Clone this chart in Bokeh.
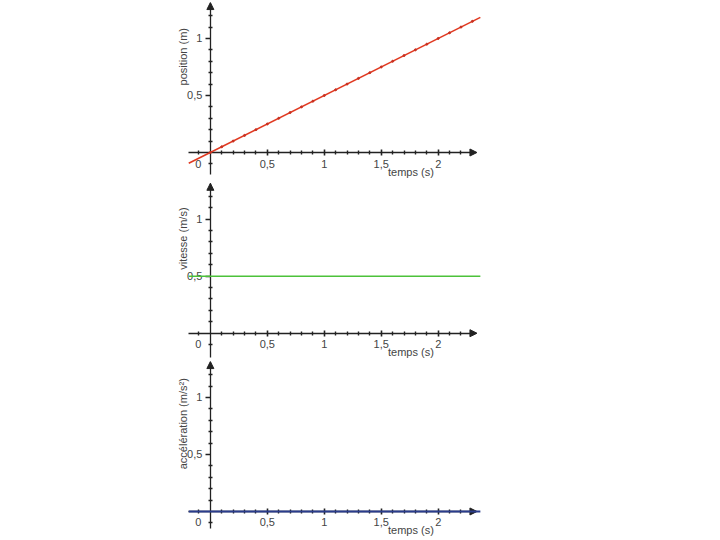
from bokeh.plotting import figure
from bokeh.layouts import column
from bokeh.models import FixedTicker, Label, Arrow, NormalHead, Range1d
from bokeh.embed import file_html
from bokeh.resources import INLINE

# ---- data ----
t_line = [-0.19, 2.37]
t_pts = [0.0, 0.1, 0.2, 0.3, 0.4, 0.5, 0.6, 0.7, 0.8, 0.9, 1.0, 1.1, 1.2,
         1.3, 1.4, 1.5, 1.6, 1.7, 1.8, 1.9, 2.0, 2.1, 2.2, 2.3]
position = [-0.095, 1.185]
position_pts = [0.0, 0.05, 0.1, 0.15, 0.2, 0.25, 0.3, 0.35, 0.4, 0.45, 0.5, 0.55,
                0.6, 0.65, 0.7, 0.75, 0.8, 0.85, 0.9, 0.95, 1.0, 1.05, 1.1, 1.15]
vitesse = [0.5, 0.5]
acceleration = [0.0, 0.0]

x_ticks = [0.5, 1, 1.5, 2]
y_ticks = [0.5, 1]
minor = [-0.1, 0.1, 0.2, 0.3, 0.4, 0.6, 0.7, 0.8, 0.9, 1.1, 1.2, 1.3, 1.4,
         1.6, 1.7, 1.8, 1.9, 2.1, 2.2, 2.3]
minor_y = [-0.1, 0.1, 0.2, 0.3, 0.4, 0.6, 0.7, 0.8, 0.9, 1.1, 1.2]
overrides = {0.5: "0,5", 1.5: "1,5"}

x_title = "temps (s)"
titles = ["position (m)", "vitesse (m/s)", "accélération (m/s²)"]

FONT = "Liberation Sans"
TXT = "#444444"
AX = "#222222"

X0, X1 = -0.35, 2.38


def make_fig(h, y0, y1, yb0, yb1, title, title_y):
    p = figure(width=505, height=h, output_backend="svg", toolbar_location=None,
               x_range=Range1d(X0, X1), y_range=Range1d(y0, y1),
               min_border=0, min_border_left=170, min_border_right=24)
    p.outline_line_color = None
    p.grid.grid_line_color = None
    for ax, tk, mn, b0, b1 in ((p.xaxis[0], x_ticks, minor, -0.19, 2.33),
                               (p.yaxis[0], y_ticks, minor_y, yb0, yb1)):
        ax.fixed_location = 0
        ax.ticker = FixedTicker(ticks=tk, minor_ticks=mn)
        ax.major_label_overrides = overrides
        ax.bounds = (b0, b1)
        ax.axis_line_color = AX
        ax.axis_line_width = 1.3
        ax.major_tick_line_color = AX
        ax.minor_tick_line_color = AX
        ax.major_tick_line_width = 1.6
        ax.minor_tick_line_width = 1.4
        ax.minor_tick_in = 2
        ax.minor_tick_out = 2
        ax.major_label_text_font = FONT
        ax.major_label_text_font_size = "11px"
        ax.major_label_text_color = TXT
    p.xaxis.major_tick_in = 3
    p.xaxis.major_tick_out = 3
    p.xaxis.major_label_standoff = 4
    p.yaxis.major_tick_in = 0
    p.yaxis.major_tick_out = 5
    p.yaxis.major_label_standoff = 3

    head_kw = dict(size=7, fill_color=AX, line_color=AX)
    p.add_layout(Arrow(end=NormalHead(**head_kw), x_start=2.3, y_start=0,
                       x_end=2.34, y_end=0, line_color=AX, line_width=1.3))
    p.add_layout(Arrow(end=NormalHead(**head_kw), x_start=0, y_start=yb1 - 0.05,
                       x_end=0, y_end=yb1 + 0.005, line_color=AX, line_width=1.3))

    p.add_layout(Label(x=0, y=0, x_offset=-12, y_offset=-11, text="0",
                       text_font=FONT, text_font_size="11px", text_color=TXT,
                       text_align="center", text_baseline="middle"))
    p.add_layout(Label(x=1.76, y=0, y_offset=-19, text=x_title,
                       text_font=FONT, text_font_size="11px", text_color=TXT,
                       text_align="center", text_baseline="middle"))
    p.add_layout(Label(x=0, y=title_y, x_offset=-27, text=title, angle=1.5708,
                       text_font=FONT, text_font_size="11px", text_color=TXT,
                       text_align="center", text_baseline="middle"))
    return p


p1 = make_fig(178, -0.228, 1.333, -0.19, 1.31, titles[0], 0.84)
r = p1.line(t_line, position, line_color="#e03a22", line_width=1.6)
r.level = "overlay"
r2 = p1.scatter(t_pts, position_pts, size=2, color="#c83020")
r2.level = "overlay"

p2 = make_fig(180, -0.222, 1.357, -0.21, 1.31, titles[1], 0.83)
g = p2.line(t_line, vitesse, line_color="#4cc23a", line_width=1.6)
g.level = "overlay"

p3 = make_fig(180, -0.237, 1.342, -0.15, 1.31, titles[2], 0.77)
b = p3.line(t_line, acceleration, line_color="#2a3c8c", line_width=1.8)
b.level = "overlay"

layout = column(p1, p2, p3, spacing=0)
open("out.html", "w").write(file_html(layout, INLINE))
